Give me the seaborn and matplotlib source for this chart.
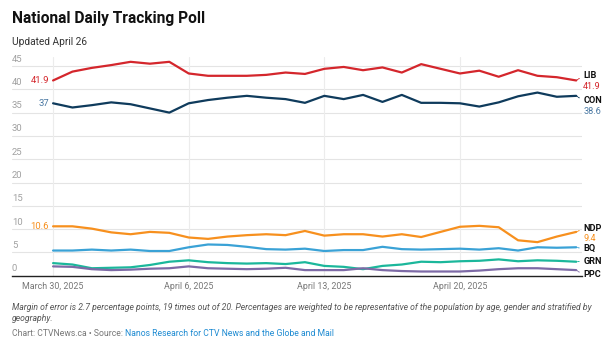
import numpy as np
import pandas as pd
import matplotlib
matplotlib.use("Agg")
import matplotlib.pyplot as plt
import matplotlib.transforms as mtransforms
import seaborn as sns

# ---------------- data ----------------
start_date = "2025-03-30"
n_days = 28
parties = ["LIB", "CON", "NDP", "BQ", "GRN", "PPC"]
lib = [41.9, 43.8, 44.6, 45.2, 45.9, 45.5, 45.9, 43.4, 42.9, 42.9, 42.9, 43.1, 43.6, 43.3,
       44.4, 44.8, 44.1, 44.7, 43.6, 45.4, 44.4, 43.4, 44.0, 42.7, 44.1, 42.9, 42.6, 41.9]
con = [37.0, 36.1, 36.6, 37.2, 36.8, 35.9, 35.0, 37.0, 37.7, 38.2, 38.6, 38.2, 37.9, 37.1,
       38.6, 37.9, 38.8, 37.3, 38.8, 37.1, 37.1, 37.0, 36.3, 37.2, 38.5, 39.3, 38.4, 38.6]
ndp = [10.6, 10.6, 10.1, 9.3, 8.9, 9.4, 9.2, 8.2, 7.9, 8.4, 8.7, 8.9, 8.7, 9.6,
       8.6, 8.9, 8.9, 8.4, 8.9, 8.3, 9.4, 10.5, 10.7, 10.4, 7.6, 7.2, 8.4, 9.4]
bq = [5.4, 5.4, 5.6, 5.4, 5.6, 5.3, 5.3, 6.1, 6.7, 6.6, 6.2, 5.7, 5.6, 5.8,
      5.3, 5.5, 5.5, 6.2, 5.7, 5.6, 5.7, 5.8, 5.6, 5.9, 5.4, 6.1, 6.0, 6.1]
grn = [2.7, 2.4, 1.6, 1.7, 1.8, 2.3, 3.0, 3.3, 2.9, 2.7, 2.6, 2.7, 2.5, 2.9,
       2.1, 1.9, 1.4, 2.1, 2.4, 3.0, 2.9, 3.1, 3.2, 3.5, 3.1, 3.3, 3.2, 3.0]
ppc = [2.0, 1.9, 1.4, 1.2, 1.3, 1.5, 1.6, 2.0, 1.6, 1.5, 1.4, 1.5, 1.7, 1.2,
       1.2, 1.2, 1.6, 1.2, 1.0, 0.9, 0.9, 0.9, 1.1, 1.4, 1.6, 1.6, 1.4, 1.2]
y_ticks = [0, 5, 10, 15, 20, 25, 30, 35, 40, 45]
x_tick_dates = ["2025-03-30", "2025-04-06", "2025-04-13", "2025-04-20"]
x_tick_labels = ["March 30, 2025", "April 6, 2025", "April 13, 2025", "April 20, 2025"]
start_labels = {"LIB": "41.9", "CON": "37", "NDP": "10.6"}
end_values = {"LIB": "41.9", "CON": "38.6", "NDP": "9.4"}

title = "National Daily Tracking Poll"
subtitle = "Updated April 26"
note = ("Margin of error is 2.7 percentage points, 19 times out of 20. Percentages are weighted to be "
        "representative of the population by age, gender and stratified by\ngeography.")
credit = "Chart: CTVNews.ca \u2022 Source: "
source = "Nanos Research for CTV News and the Globe and Mail"

# ---------------- styles ----------------
colors = {"LIB": "#d4262c", "CON": "#0f3b5c", "NDP": "#f7901e",
          "BQ": "#3aa2d6", "GRN": "#1bb79b", "PPC": "#7d6aa6"}
value_colors = {"LIB": "#d4262c", "CON": "#4b79a3", "NDP": "#f7901e"}
# label offsets (pixels) relative to line ends: (name dy, value dy)
end_offsets = {"LIB": (4.5, -6.5), "CON": (-4.5, -15.5), "NDP": (3.0, -7.0),
               "BQ": (-1.5, None), "GRN": (0.5, None), "PPC": (-4.5, None)}

dates = pd.date_range(start_date, periods=n_days, freq="D")
series = {"LIB": lib, "CON": con, "NDP": ndp, "BQ": bq, "GRN": grn, "PPC": ppc}
df = pd.concat([pd.DataFrame({"date": dates, "value": series[p], "party": p}) for p in parties],
               ignore_index=True)

sns.set_theme(style="white")
plt.rcParams["font.family"] = ["Roboto", "DejaVu Sans"]

W, H = 612, 348
fig = plt.figure(figsize=(W / 100, H / 100), dpi=100, facecolor="white")
ax_left, ax_right = 12, 582
ax_bottom, ax_top = 275.7, 56.7
ax = fig.add_axes([ax_left / W, 1 - ax_bottom / H, (ax_right - ax_left) / W, (ax_bottom - ax_top) / H])

sns.lineplot(data=df, x="date", y="value", hue="party", palette=colors, hue_order=parties,
             linewidth=1.6, legend=False, ax=ax, zorder=3)

d0 = dates[0]
ax.set_xlim(d0 - pd.Timedelta(days=2.12), d0 + pd.Timedelta(days=27.3))
ax.set_ylim(0, 47)

# grid
for v in y_ticks[1:]:
    ax.axhline(v, color="#e4e4e4", lw=0.8, zorder=1)
for d in x_tick_dates:
    ax.axvline(pd.Timestamp(d), color="#ececec", lw=0.8, zorder=1)
for s in ["top", "right", "left"]:
    ax.spines[s].set_visible(False)
ax.spines["bottom"].set_color("#222222")
ax.spines["bottom"].set_linewidth(1.0)
ax.spines["bottom"].set_zorder(4)

ax.set_yticks([])
ax.set_xticks([pd.Timestamp(d) for d in x_tick_dates])
ax.set_xticklabels(x_tick_labels, fontsize=6.4, color="#777777")
ax.tick_params(axis="x", length=0, pad=4.5)
ax.set_xlabel("")
ax.set_ylabel("")

ytrans = mtransforms.blended_transform_factory(ax.transAxes, ax.transData)
for v in y_ticks:
    ax.annotate(str(v), xy=(0, v), xycoords=ytrans, xytext=(0, 1.8), textcoords="offset points",
                ha="left", va="bottom", fontsize=6.8, color="#a0a0a0")

# start labels
for p, txt in start_labels.items():
    ax.annotate(txt, xy=(dates[0], series[p][0]), xytext=(-3, 0), textcoords="offset points",
                ha="right", va="center", fontsize=6.8, color=value_colors[p])

# end labels
px2pt = 72 / 100
for p in parties:
    yv = series[p][-1]
    ndy, vdy = end_offsets[p]
    ax.annotate(p, xy=(dates[-1], yv), xytext=(5.0, ndy * px2pt), textcoords="offset points",
                ha="left", va="center", fontsize=6.6, fontweight="bold", color="#111111",
                annotation_clip=False,
                arrowprops=dict(arrowstyle="-", linestyle=(0, (1, 1)), color=colors[p], lw=0.7,
                                shrinkA=0.5, shrinkB=0, relpos=(0, 0.5)))
    if vdy is not None:
        ax.annotate(end_values[p], xy=(dates[-1], yv), xytext=(5.0, vdy * px2pt),
                    textcoords="offset points", ha="left", va="center", fontsize=6.6,
                    color=value_colors[p], annotation_clip=False)

# titles
fig.text(12 / W, 1 - 18 / H, title, fontsize=11.2, fontweight="bold", color="#111111",
         ha="left", va="center")
fig.text(12 / W, 1 - 42 / H, subtitle, fontsize=7.3, color="#333333", ha="left", va="center")

# footnotes
fig.text(12 / W, 1 - 303 / H, note, fontsize=6.25, style="italic", color="#555555",
         ha="left", va="top", linespacing=1.35)
t = fig.text(12 / W, 1 - 333 / H, credit, fontsize=6.2, color="#777777", ha="left", va="center")
fig.canvas.draw()
bb = t.get_window_extent()
fig.text(bb.x1 / W, 1 - 333 / H, source, fontsize=6.2, color="#1e8bd2", ha="left", va="center")

fig.savefig("out.png", dpi=100, facecolor="white")
